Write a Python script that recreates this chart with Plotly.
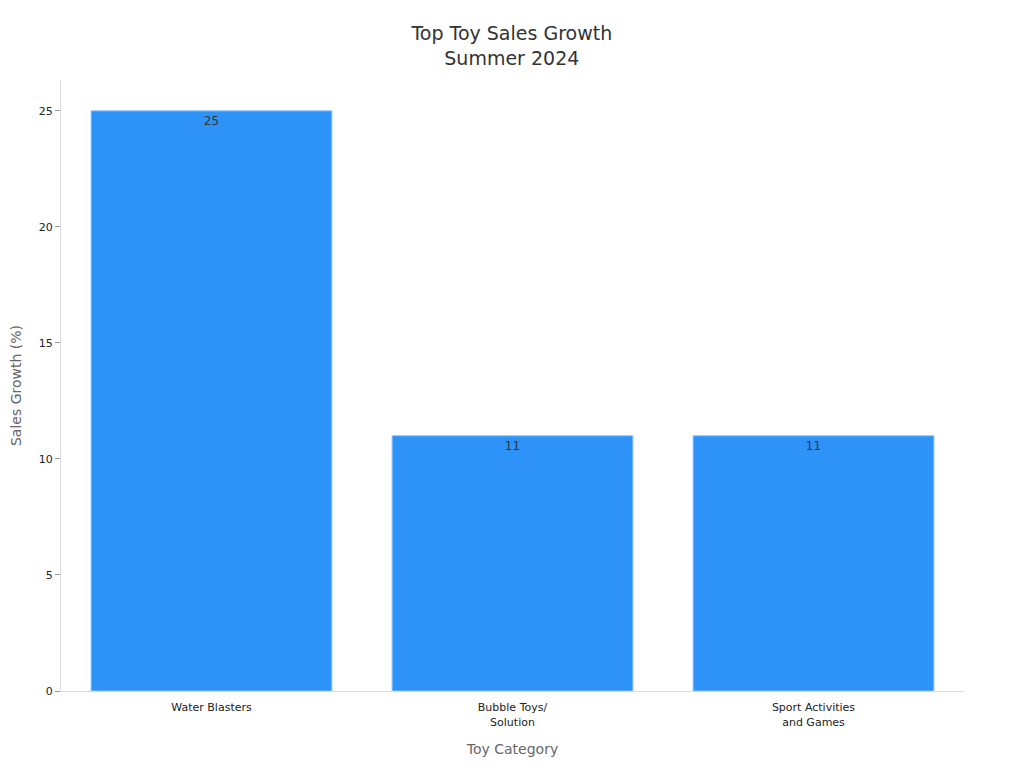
import plotly.graph_objects as go

categories = ["Water Blasters", "Bubble Toys/<br>Solution", "Sport Activities<br>and Games"]
values = [25, 11, 11]

fig = go.Figure(go.Bar(
    x=categories, y=values, text=values, textposition="inside", insidetextanchor="end",
    textfont=dict(color="#333", size=12),
    marker=dict(color="#2E93F8", line=dict(color="#8CC4FA", width=1)),
))
fig.update_layout(
    width=1024, height=768, plot_bgcolor="white", paper_bgcolor="white",
    font=dict(family="DejaVu Sans", color="#222"),
    title=dict(text="Top Toy Sales Growth<br>Summer 2024", x=0.492, xanchor="center", y=0.958,
               font=dict(size=19, color="#333")),
    margin=dict(l=53, r=68, t=72, b=85, autoexpand=False),
    bargap=0.2, showlegend=False,
    xaxis=dict(title=dict(text="Toy Category", font=dict(size=14, color="#666"), standoff=16),
               showline=True, linecolor="#ddd", tickfont=dict(size=11),
               ticks="outside", ticklen=6, tickcolor="rgba(0,0,0,0)"),
    yaxis=dict(title=dict(text="Sales Growth (%)", font=dict(size=14, color="#666")),
               range=[0, 26.33], showgrid=False, showline=True, linecolor="#ddd",
               ticks="outside", tickcolor="#999", ticklen=5, dtick=5, tickfont=dict(size=11)),
)
fig.write_html("out.html")
